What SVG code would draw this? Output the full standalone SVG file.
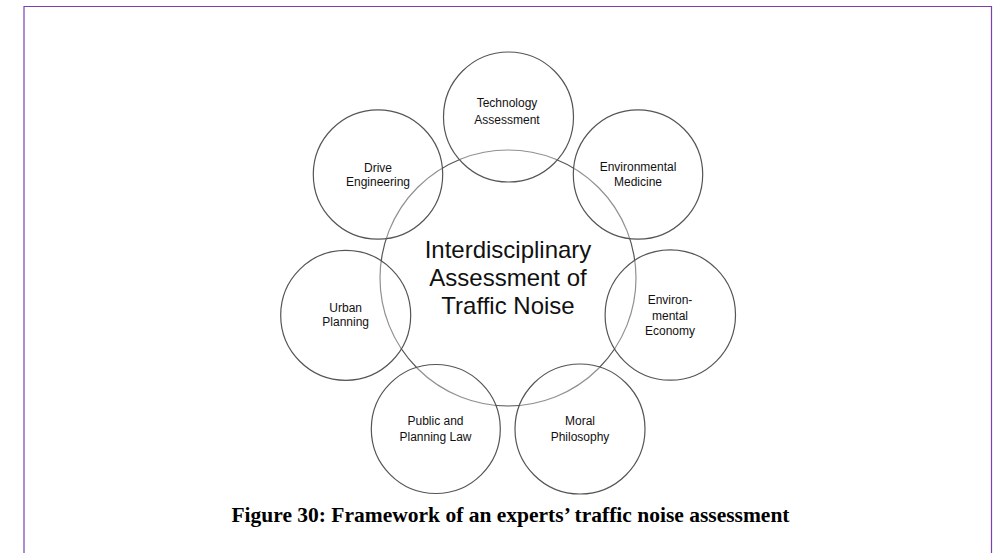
<svg xmlns="http://www.w3.org/2000/svg" width="999" height="553" viewBox="0 0 999 553">
<style>
.c{fill:#ffffff;fill-opacity:0.35;stroke:#555;stroke-width:1.2}
.t{font-family:"Liberation Sans",Arial,sans-serif;font-size:12px;fill:#111;text-anchor:middle}
.big{font-family:"Liberation Sans",Arial,sans-serif;font-size:24px;fill:#111;text-anchor:middle}
.cap{font-family:"Liberation Serif","Times New Roman",serif;font-size:21.5px;font-weight:bold;fill:#000;text-anchor:middle}
</style>
<rect width="999" height="553" fill="#fff"/>
<path d="M24 553 V6.5 H991.5 V553" fill="none" stroke="#7b3fb0" stroke-width="1.2"/>
<g id="center">
<circle class="c" cx="508" cy="278" r="128"/>
<text class="big" x="508" y="258">Interdisciplinary</text>
<text class="big" x="508" y="286">Assessment of</text>
<text class="big" x="508" y="314">Traffic Noise</text>
</g>
<g id="technology">
<circle class="c" cx="508.5" cy="117" r="65"/>
<text class="t" x="507" y="107">Technology</text>
<text class="t" x="507" y="124">Assessment</text>
</g>
<g id="drive">
<circle class="c" cx="378" cy="174.5" r="64.7"/>
<text class="t" x="378" y="172">Drive</text>
<text class="t" x="378" y="186">Engineering</text>
</g>
<g id="medicine">
<circle class="c" cx="638" cy="174.5" r="64.7"/>
<text class="t" x="638" y="171">Environmental</text>
<text class="t" x="638" y="186">Medicine</text>
</g>
<g id="urban">
<circle class="c" cx="345.7" cy="315.3" r="65"/>
<text class="t" x="345.7" y="312">Urban</text>
<text class="t" x="345.7" y="326">Planning</text>
</g>
<g id="economy">
<circle class="c" cx="670.3" cy="315" r="65.2"/>
<text class="t" x="670" y="304">Environ-</text>
<text class="t" x="670" y="320">mental</text>
<text class="t" x="670" y="335">Economy</text>
</g>
<g id="law">
<circle class="c" cx="435.8" cy="429" r="64.5"/>
<text class="t" x="435.5" y="425">Public and</text>
<text class="t" x="435.5" y="441">Planning Law</text>
</g>
<g id="moral">
<circle class="c" cx="580" cy="429" r="65"/>
<text class="t" x="580" y="425">Moral</text>
<text class="t" x="580" y="441">Philosophy</text>
</g>
<g id="connectors"></g>
<text class="cap" x="510.5" y="522">Figure 30: Framework of an experts’ traffic noise assessment</text>
</svg>
